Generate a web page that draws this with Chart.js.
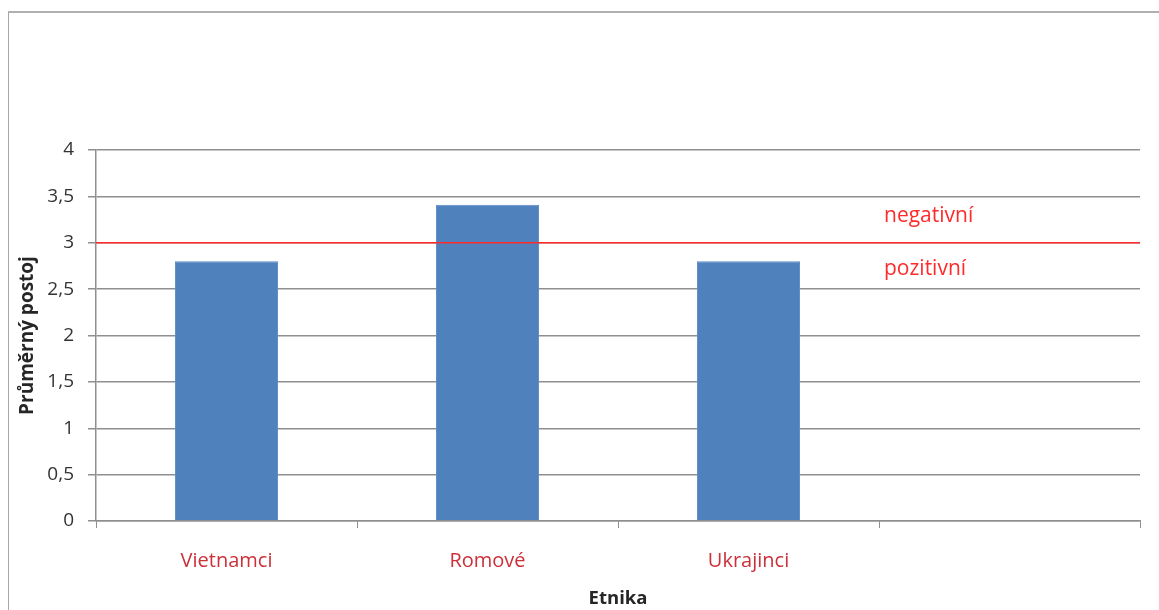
<!DOCTYPE html>
<html lang="cs">
<head>
    <meta charset="UTF-8">
    <title>Průměrný postoj podle etnika</title>
    <script src="https://cdn.jsdelivr.net/npm/chart.js"></script>
    <style>
        body {
            margin: 0;
            background: #ffffff;
        }

        .frame {
            position: absolute;
            left: 8px;
            top: 11px;
            width: 1160px;
            height: 620px;
            border-left: 1px solid #a6a6a6;
            border-top: 2px solid #b0b0b0;
        }

        .wrap {
            position: absolute;
            left: 0;
            top: 0;
            width: 1159px;
            height: 610px;
        }
    </style>
</head>
<body>
    <div class="frame"></div>
    <div class="wrap">
        <canvas id="chart" width="1159" height="610"></canvas>
    </div>

    <script>
        // data
        const categories = ['Vietnamci', 'Romové', 'Ukrajinci', ''];
        const avgAttitude = [2.8, 3.41, 2.8, null];
        const yTicks = [0, 0.5, 1, 1.5, 2, 2.5, 3, 3.5, 4];
        const threshold = 3;
        const zoneLabels = ['negativní', 'pozitivní'];
        const zoneLabelValues = [3.29, 2.72];

        const fontFamily = '"Open Sans", sans-serif';

        // red dividing line + the two zone captions
        const thresholdPlugin = {
            id: 'threshold',
            afterDatasetsDraw(chart) {
                const { ctx, chartArea, scales } = chart;
                const y = scales.y.getPixelForValue(threshold);
                ctx.save();
                ctx.strokeStyle = '#ff2a2a';
                ctx.lineWidth = 1.5;
                ctx.beginPath();
                ctx.moveTo(chartArea.left, y);
                ctx.lineTo(chartArea.right, y);
                ctx.stroke();

                // captions start just right of the 4th category boundary
                const x = scales.x.getPixelForValue(3) - scales.x.width / categories.length / 2 + 5;
                ctx.fillStyle = '#ff2a2a';
                ctx.font = '21px ' + fontFamily;
                ctx.textAlign = 'left';
                ctx.textBaseline = 'middle';
                zoneLabels.forEach((txt, i) => {
                    ctx.fillText(txt, x, scales.y.getPixelForValue(zoneLabelValues[i]));
                });
                ctx.restore();
            }
        };

        new Chart(document.getElementById('chart'), {
            type: 'bar',
            data: {
                labels: categories,
                datasets: [{
                    data: avgAttitude,
                    backgroundColor: '#4f81bd',
                    borderColor: '#5b8cc6',
                    borderWidth: 1,
                    barPercentage: 0.395,
                    categoryPercentage: 1
                }]
            },
            options: {
                responsive: false,
                animation: false,
                layout: {
                    padding: { left: 12, right: 19, top: 150, bottom: 0 }
                },
                plugins: {
                    legend: { display: false },
                    tooltip: { enabled: false }
                },
                scales: {
                    x: {
                        offset: true,
                        grid: {
                            offset: true,
                            drawOnChartArea: false,
                            tickLength: 7,
                            color: '#8f8f8f'
                        },
                        border: { color: '#8f8f8f', width: 1.5 },
                        ticks: {
                            color: '#cc3039',
                            padding: 21,
                            font: { family: fontFamily, size: 20 }
                        },
                        title: {
                            display: true,
                            text: 'Etnika',
                            color: '#262626',
                            font: { family: fontFamily, size: 18.5, weight: 'bold' },
                            padding: { top: 4, bottom: 0 }
                        },
                        afterFit(scale) {
                            scale.height = 89;
                        }
                    },
                    y: {
                        min: 0,
                        max: 4,
                        afterBuildTicks(scale) {
                            scale.ticks = yTicks.map(v => ({ value: v }));
                        },
                        grid: {
                            color: '#8f8f8f',
                            lineWidth: 1.5,
                            tickLength: 8
                        },
                        border: { color: '#8f8f8f', width: 1.5 },
                        ticks: {
                            color: '#333333',
                            padding: 14,
                            font: { family: fontFamily, size: 19 },
                            callback: v => String(v).replace('.', ',')
                        },
                        title: {
                            display: true,
                            text: 'Průměrný postoj',
                            color: '#262626',
                            font: { family: fontFamily, size: 19, weight: 'bold' },
                            padding: { top: 4, bottom: 4 }
                        },
                        afterFit(scale) {
                            scale.width = 84;
                        }
                    }
                }
            },
            plugins: [thresholdPlugin]
        });
    </script>
</body>
</html>
